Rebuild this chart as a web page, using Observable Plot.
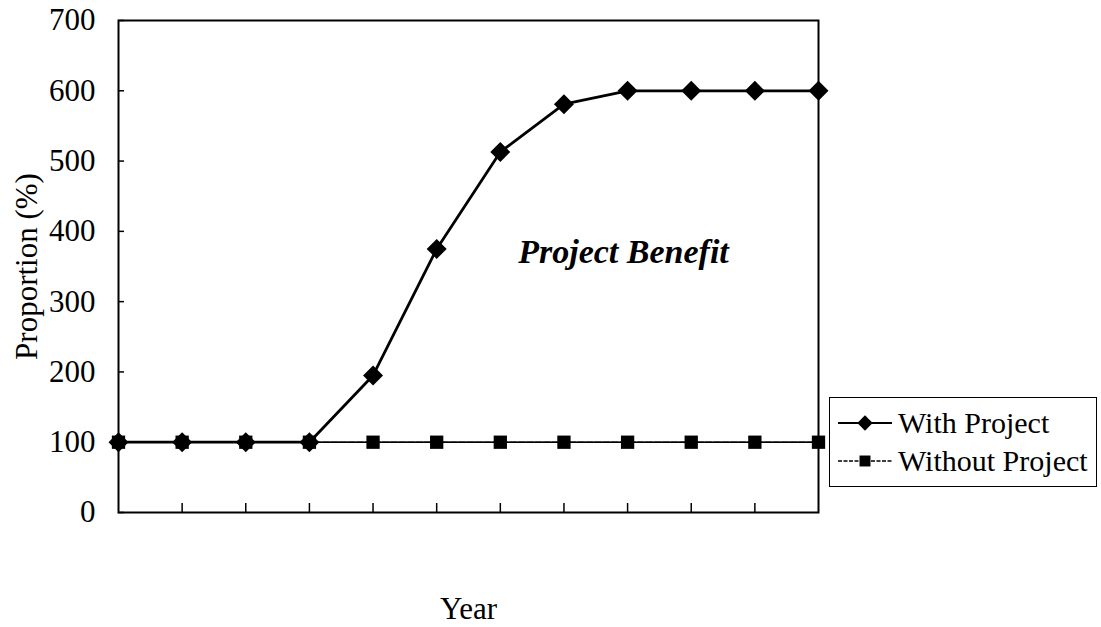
<!DOCTYPE html>
<html>
<head>
<meta charset="utf-8">
<script src="https://cdn.jsdelivr.net/npm/d3@7"></script>
<script src="https://cdn.jsdelivr.net/npm/@observablehq/plot@0.6"></script>
<style>
  html, body { margin: 0; padding: 0; background: #fff; }
  #wrap { position: relative; width: 1101px; height: 627px; font-family: "Liberation Serif", "Times New Roman", serif; }
  #legend { position: absolute; left: 829px; top: 397px; width: 268px; height: 90px; border: 1.5px solid #000; box-sizing: border-box; background: #fff; }
  .row { position: absolute; left: 0; height: 36px; display: flex; align-items: center; font-size: 30px; color: #000; white-space: nowrap; }
  .row svg { margin-left: 8px; margin-right: 6px; }
</style>
</head>
<body>
<div id="wrap"></div>
<script>
// ---- data ----
const periods = [0, 1, 2, 3, 4, 5, 6, 7, 8, 9, 10, 11];
const withProject = [100, 100, 100, 100, 195, 375, 513, 581, 600, 600, 600, 600];
const withoutProject = [100, 100, 100, 100, 100, 100, 100, 100, 100, 100, 100, 100];
const yTicks = [0, 100, 200, 300, 400, 500, 600, 700];
const xTicks = [1, 2, 3, 4, 5, 6, 7, 8, 9, 10];
const seriesNames = ["With Project", "Without Project"];
const annotation = "Project Benefit";

const rowsWith = periods.map((p, i) => ({x: p, y: withProject[i]}));
const rowsWithout = periods.map((p, i) => ({x: p, y: withoutProject[i]}));

const W = 1101, H = 627;
const mL = 118, mR = 283, mT = 20, mB = 115;
const pw = W - mL - mR, ph = H - mT - mB;

const chart = Plot.plot({
  width: W, height: H,
  marginLeft: mL, marginRight: mR, marginTop: mT, marginBottom: mB,
  style: {fontFamily: "'Liberation Serif', 'Times New Roman', serif", fontSize: "30px", color: "#000", background: "#fff"},
  x: {domain: [0, 11]},
  y: {domain: [0, 700]},
  marks: [
    Plot.frame({stroke: "#000", strokeWidth: 2}),
    Plot.axisY({ticks: yTicks, tickSize: 0, tickPadding: 23, label: "Proportion (%)", labelAnchor: "center", labelOffset: 104, labelArrow: "none", fontSize: 31}),
    Plot.axisX({ticks: [], tickSize: 0, label: "Year", labelAnchor: "center", labelOffset: 106, labelArrow: "none", fontSize: 31}),
    Plot.tickY(yTicks, {y: d => d, stroke: "#000", strokeWidth: 1.5, insetRight: pw - 6}),
    Plot.tickX(xTicks, {x: d => d, stroke: "#000", strokeWidth: 1.5, insetTop: ph - 9}),
    Plot.line(rowsWith, {x: "x", y: "y", stroke: "#000", strokeWidth: 2.8}),
    Plot.dot(rowsWith, {x: "x", y: "y", symbol: "diamond2", r: 9, fill: "#000", stroke: "none"}),
    Plot.line(rowsWithout, {x: "x", y: "y", stroke: "#000", strokeWidth: 1.8, strokeDasharray: "7,1.5"}),
    Plot.dot(rowsWithout, {x: "x", y: "y", symbol: "square", r: 7.5, fill: "#000", stroke: "none"}),
    Plot.text([annotation], {frameAnchor: "middle", dx: 155, dy: -14, text: d => d, fontSize: 34, fontWeight: "bold", fontStyle: "italic", fill: "#000"})
  ]
});
document.getElementById("wrap").appendChild(chart);

// legend
const legend = document.createElement("div");
legend.id = "legend";
const mk = (name, i) => {
  const row = document.createElement("div");
  row.className = "row";
  row.style.top = (i === 0 ? 7 : 45) + "px";
  const s = d3.create("svg").attr("width", 54).attr("height", 20);
  s.append("line").attr("x1", 0).attr("x2", 54).attr("y1", 10).attr("y2", 10)
    .attr("stroke", "#000").attr("stroke-width", i === 0 ? 2 : 1.5)
    .attr("stroke-dasharray", i === 0 ? null : "4,1.5");
  const sym = d3.symbol().type(i === 0 ? d3.symbolDiamond2 : d3.symbolSquare).size(i === 0 ? 150 : 120);
  s.append("path").attr("d", sym()).attr("transform", "translate(27,10)").attr("fill", "#000");
  row.appendChild(s.node());
  const t = document.createElement("span");
  t.textContent = name;
  row.appendChild(t);
  return row;
};
seriesNames.forEach((n, i) => legend.appendChild(mk(n, i)));
document.getElementById("wrap").appendChild(legend);
</script>
</body>
</html>
